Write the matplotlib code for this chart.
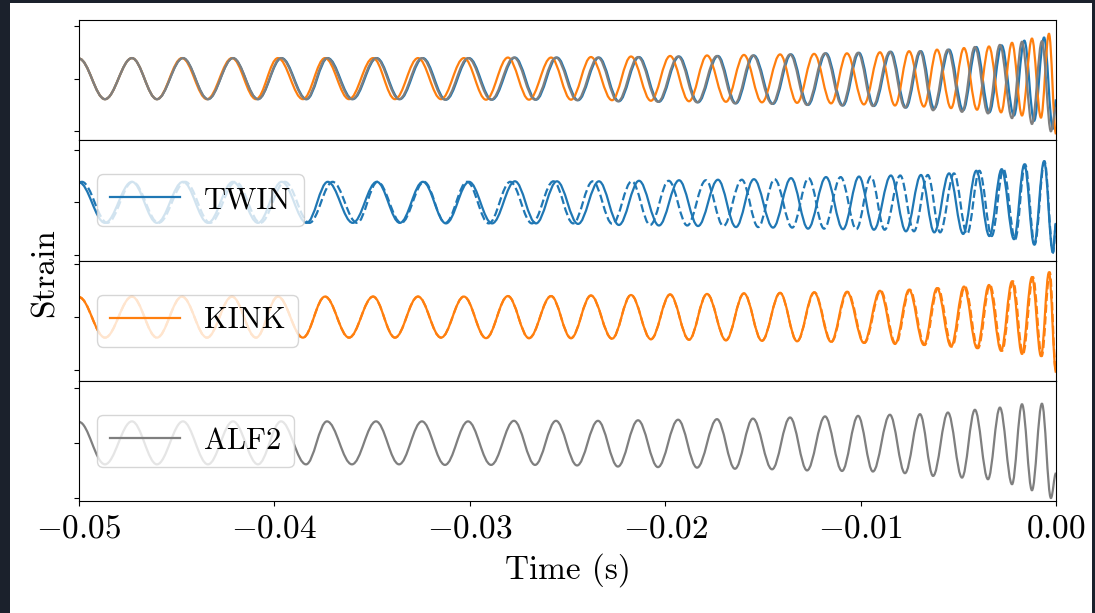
import numpy as np
import matplotlib
matplotlib.use('Agg')
import matplotlib.pyplot as plt
from matplotlib.path import Path
from matplotlib.patches import PathPatch, Rectangle
from matplotlib.lines import Line2D

# extrema of each waveform (peak / trough times in ms and strain values)
alf2_t_ms = [-50.00, -48.67, -47.29, -46.01, -44.68, -43.40, -42.12, -40.84, -39.66, -38.38,
             -37.31, -36.03, -34.80, -33.62, -32.45, -31.27, -30.09, -28.91, -27.74, -26.66,
             -25.59, -24.51, -23.44, -22.42, -21.39, -20.37, -19.34, -18.37, -17.35, -16.43,
             -15.51, -14.53, -13.61, -12.74, -11.82, -10.95, -10.13, -9.37, -8.50, -7.73,
             -6.96, -6.29, -5.53, -4.81, -4.15, -3.48, -2.87, -2.25, -1.74, -1.23,
             -0.72, -0.26, 0.0]
alf2_h = [0.38, -0.39, 0.39, -0.39, 0.39, -0.39, 0.39, -0.39, 0.39, -0.39,
          0.39, -0.39, 0.39, -0.39, 0.39, -0.40, 0.39, -0.40, 0.40, -0.40,
          0.40, -0.41, 0.40, -0.43, 0.41, -0.44, 0.42, -0.45, 0.43, -0.47,
          0.44, -0.48, 0.46, -0.50, 0.48, -0.51, 0.49, -0.52, 0.51, -0.55,
          0.52, -0.60, 0.55, -0.63, 0.60, -0.66, 0.64, -0.75, 0.70, -0.86,
          0.71, -1.00, -0.55]

twin_t_ms = [-50.00, -48.67, -47.29, -46.01, -44.68, -43.40, -42.12, -40.84, -39.63, -38.35,
             -37.27, -35.99, -34.76, -33.58, -32.40, -31.22, -30.04, -28.86, -27.69, -26.61,
             -25.54, -24.46, -23.39, -22.37, -21.34, -20.32, -19.29, -18.32, -17.30, -16.38,
             -15.46, -14.48, -13.56, -12.69, -11.77, -10.90, -10.08, -9.32, -8.45, -7.68,
             -6.91, -6.23, -5.47, -4.75, -4.08, -3.41, -2.78, -2.15, -1.62, -1.12,
             -0.61, -0.16, 0.0]
twin_h = [0.38, -0.39, 0.39, -0.39, 0.39, -0.39, 0.39, -0.39, 0.39, -0.39,
          0.39, -0.39, 0.39, -0.39, 0.39, -0.40, 0.39, -0.40, 0.40, -0.40,
          0.40, -0.41, 0.40, -0.43, 0.41, -0.44, 0.42, -0.45, 0.43, -0.47,
          0.44, -0.48, 0.46, -0.50, 0.48, -0.51, 0.49, -0.52, 0.51, -0.55,
          0.52, -0.57, 0.55, -0.60, 0.60, -0.64, 0.63, -0.70, 0.72, -0.80,
          0.78, -0.95, -0.40]

twin_dash_t_ms = [-51.15, -49.85, -48.55, -47.25, -45.93, -44.56, -43.29, -41.98, -40.72, -39.46,
                  -38.21, -37.02, -35.77, -34.72, -33.51, -32.34, -31.25, -30.14, -29.03, -27.93,
                  -26.82, -25.72, -24.71, -23.71, -22.70, -21.71, -20.77, -19.82, -18.87, -17.92,
                  -17.02, -16.08, -15.24, -14.40, -13.50, -12.66, -11.87, -11.02, -10.22, -9.47,
                  -8.77, -7.97, -7.27, -6.56, -5.93, -5.22, -4.55, -3.92, -3.29, -2.69,
                  -2.09, -1.58, -1.09, -0.59, -0.15, 0.0]
twin_dash_h = [-0.39, 0.39, -0.39,
               0.39, -0.39, 0.39, -0.39, 0.39, -0.39, 0.39, -0.39, 0.39, -0.39,
               0.39, -0.39, 0.39, -0.39, 0.39, -0.40, 0.39, -0.40, 0.40, -0.40,
               0.40, -0.41, 0.40, -0.43, 0.41, -0.44, 0.42, -0.45, 0.43, -0.47,
               0.44, -0.48, 0.46, -0.50, 0.48, -0.51, 0.49, -0.52, 0.51, -0.55,
               0.52, -0.57, 0.55, -0.60, 0.60, -0.64, 0.63, -0.70, 0.72, -0.80,
               0.78, -0.95, -0.40]

kink_t_ms = [-50.00, -48.67, -47.29, -46.01, -44.73, -43.45, -42.17, -40.94, -39.82, -38.54,
             -37.41, -36.18, -34.95, -33.83, -32.65, -31.47, -30.30, -29.17, -28.05, -26.97,
             -25.84, -24.82, -23.80, -22.72, -21.75, -20.73, -19.75, -18.78, -17.86, -16.89,
             -15.97, -15.05, -14.12, -13.25, -12.38, -11.51, -10.70, -9.83, -9.01, -8.24,
             -7.52, -6.76, -6.09, -5.37, -4.71, -4.04, -3.43, -2.81, -2.25, -1.74,
             -1.23, -0.77, -0.36, 0.0]
kink_dash_t_ms = [-50.00, -48.67, -47.29, -46.01, -44.73, -43.45, -42.17, -40.94, -39.82, -38.54,
                  -37.41, -36.18, -34.95, -33.83, -32.65, -31.47, -30.30, -29.17, -28.05, -26.97,
                  -25.84, -24.82, -23.80, -22.72, -21.75, -20.73, -19.75, -18.78, -17.86, -16.89,
                  -15.97, -15.05, -14.12, -13.25, -12.36, -11.49, -10.67, -9.80, -8.97, -8.20,
                  -7.48, -6.72, -6.04, -5.32, -4.66, -3.99, -3.38, -2.76, -2.20, -1.69,
                  -1.18, -0.73, -0.32, 0.0]
kink_h = [0.38, -0.39, 0.39, -0.39, 0.39, -0.39, 0.39, -0.39, 0.39, -0.39,
          0.39, -0.39, 0.39, -0.39, 0.39, -0.39, 0.39, -0.40, 0.40, -0.40,
          0.40, -0.40, 0.41, -0.41, 0.42, -0.42, 0.43, -0.43, 0.44, -0.44,
          0.45, -0.45, 0.46, -0.46, 0.47, -0.47, 0.48, -0.49, 0.50, -0.51,
          0.52, -0.53, 0.55, -0.56, 0.58, -0.59, 0.61, -0.64, 0.68, -0.70,
          0.76, -0.74, 0.85, -1.05]

names = ['TWIN', 'KINK', 'ALF2']
colors = ['#1f77b4', '#ff7f0e', '#7f7f7f']
xticks = [-0.05, -0.04, -0.03, -0.02, -0.01, 0.00]
panel_ylims = [(-1.17, 1.113), (-1.105, 1.18), (-1.21, 1.076), (-1.055, 1.127)]

plt.rcParams['font.family'] = 'serif'
plt.rcParams['font.serif'] = ['cmr10']
plt.rcParams['mathtext.fontset'] = 'cm'
plt.rcParams['axes.formatter.use_mathtext'] = True

K = 0.3634  # bezier handle so each half cycle looks like a cosine


def wave(ax, t_ms, h, color, ls='-'):
    t = np.asarray(t_ms) / 1000.0
    dt = np.diff(t)
    verts = [(t[0], h[0])]
    codes = [Path.MOVETO]
    for i in range(len(dt)):
        verts += [(t[i] + K * dt[i], h[i]), (t[i + 1] - K * dt[i], h[i + 1]), (t[i + 1], h[i + 1])]
        codes += [Path.CURVE4] * 3
    ax.add_patch(PathPatch(Path(verts, codes), fill=False, edgecolor=color, lw=1.6, ls=ls))


fig = plt.figure(figsize=(10.95, 6.13), dpi=100, facecolor='#1b212c')
fig.add_artist(Rectangle((10 / 1095, 0), 1082 / 1095, 610 / 613, transform=fig.transFigure,
                         facecolor='white', edgecolor='none', zorder=-1))
axes = fig.subplots(4, 1, sharex=True,
                    gridspec_kw=dict(hspace=0, left=79 / 1095, right=1056 / 1095,
                                     top=1 - 20 / 613, bottom=1 - 501 / 613))

series = [(twin_t_ms, twin_h, twin_dash_t_ms, twin_dash_h),
          (kink_t_ms, kink_h, kink_dash_t_ms, kink_h),
          (alf2_t_ms, alf2_h, None, None)]

# top panel: all three overlaid
for (t, h, _, _), c in zip(series, colors):
    wave(axes[0], t, h, c)

for ax, (t, h, td, hd), c, name in zip(axes[1:], series, colors, names):
    wave(ax, t, h, c)
    if td is not None:
        wave(ax, td, hd, c, ls='--')
    ax.legend(handles=[Line2D([], [], color=c, lw=1.6)], labels=[name], loc='center left',
              fontsize=22, handlelength=2.3, borderaxespad=0.6)

for i, ax in enumerate(axes):
    ax.set_ylim(*panel_ylims[i])
    ax.set_yticks([-1, 0, 1])
    ax.tick_params(axis='y', labelleft=False, length=3.5)
    if i < 3:
        ax.tick_params(axis='x', bottom=False)

axes[-1].set_xlim(-0.05, 0.0)
axes[-1].set_xticks(xticks)
axes[-1].tick_params(axis='x', labelsize=24, length=3.5, pad=6)
axes[-1].set_xlabel('Time (s)', fontsize=24, labelpad=7)
fig.text(45 / 1095, 1 - 273 / 613, 'Strain', rotation=90, ha='center', va='center', fontsize=24)

fig.savefig('out.png', dpi=100, facecolor=fig.get_facecolor())
